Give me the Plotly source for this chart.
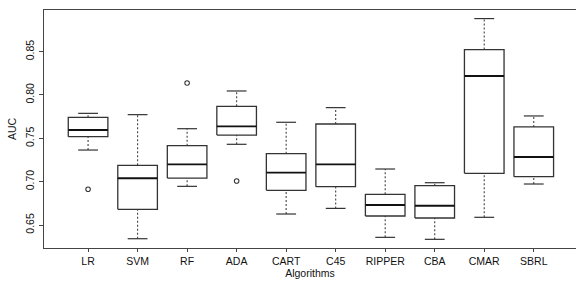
import plotly.graph_objects as go

algorithms = ["LR", "SVM", "RF", "ADA", "CART", "C45", "RIPPER", "CBA", "CMAR", "SBRL"]
lower_whisker = [0.7365, 0.6342, 0.6946, 0.7431, 0.6627, 0.6692, 0.6358, 0.6335, 0.6589, 0.6973]
q1 = [0.7519, 0.6681, 0.7042, 0.7538, 0.6900, 0.6942, 0.6604, 0.6581, 0.7096, 0.7058]
median = [0.7596, 0.7039, 0.7200, 0.7638, 0.7104, 0.7200, 0.6731, 0.6723, 0.8219, 0.7285]
q3 = [0.7742, 0.7189, 0.7415, 0.7869, 0.7323, 0.7665, 0.6854, 0.6954, 0.8523, 0.7631]
upper_whisker = [0.7788, 0.7773, 0.7611, 0.8046, 0.7685, 0.7854, 0.7146, 0.6988, 0.8881, 0.7758]
outlier_alg = ["LR", "RF", "ADA"]
outlier_val = [0.6912, 0.8138, 0.7008]
y_ticks = [0.65, 0.70, 0.75, 0.80, 0.85]
y_ticktext = ["0.65", "0.70", "0.75", "0.80", "0.85"]

pos = list(range(1, len(algorithms) + 1))
box_w = 0.8
cap_w = 0.4
line_col = "#333333"

fig = go.Figure()

# dashed whiskers
wx, wy = [], []
for p, lo, a, b, hi in zip(pos, lower_whisker, q1, q3, upper_whisker):
    wx += [p, p, None, p, p, None]
    wy += [lo, a, None, b, hi, None]
fig.add_trace(go.Scatter(x=wx, y=wy, mode="lines", line=dict(color="#444444", width=1.1, dash="2px,2px"),
                         hoverinfo="skip", showlegend=False))

# boxes
for p, a, b in zip(pos, q1, q3):
    fig.add_trace(go.Scatter(x=[p - box_w / 2, p + box_w / 2, p + box_w / 2, p - box_w / 2, p - box_w / 2],
                             y=[a, a, b, b, a], mode="lines", fill="toself", fillcolor="white",
                             line=dict(color=line_col, width=1.3), hoverinfo="skip", showlegend=False))

# medians
mx, my = [], []
for p, m in zip(pos, median):
    mx += [p - box_w / 2, p + box_w / 2, None]
    my += [m, m, None]
fig.add_trace(go.Scatter(x=mx, y=my, mode="lines", line=dict(color="#111111", width=1.9),
                         hoverinfo="skip", showlegend=False))

# caps
cx, cy = [], []
for p, lo, hi in zip(pos, lower_whisker, upper_whisker):
    cx += [p - cap_w / 2, p + cap_w / 2, None, p - cap_w / 2, p + cap_w / 2, None]
    cy += [lo, lo, None, hi, hi, None]
fig.add_trace(go.Scatter(x=cx, y=cy, mode="lines", line=dict(color=line_col, width=1.2),
                         hoverinfo="skip", showlegend=False))

# outliers
ox = [pos[algorithms.index(a)] for a in outlier_alg]
fig.add_trace(go.Scatter(x=ox, y=outlier_val, mode="markers",
                         marker=dict(symbol="circle-open", size=4.5, color=line_col, line=dict(width=1.1)),
                         showlegend=False))

font = dict(family="Liberation Sans, Arial, sans-serif", size=10.5, color="#111111")
fig.update_layout(
    width=576, height=282,
    margin=dict(l=44, r=0, t=10, b=34),
    paper_bgcolor="white", plot_bgcolor="white",
    font=font,
    xaxis=dict(range=[0.11, 10.853], tickvals=pos, ticktext=algorithms, showgrid=False, zeroline=False,
               showline=True, linecolor="#444444", linewidth=1.4, mirror=True,
               ticks="outside", ticklen=3, tickcolor="#444444", tickwidth=1,
               title=dict(text="Algorithms", standoff=3, font=font)),
    yaxis=dict(range=[0.6235, 0.898], tickvals=y_ticks, ticktext=y_ticktext, tickangle=-90,
               showgrid=False, zeroline=False, showline=True, linecolor="#444444", linewidth=1.4,
               ticks="outside", ticklen=4, tickcolor="#444444", tickwidth=1,
               title=dict(text="AUC", standoff=5, font=font)),
)

fig.write_html("out.html", config={"displayModeBar": False, "staticPlot": True},
               post_script="document.body.style.margin='0';document.body.style.overflow='hidden';")
